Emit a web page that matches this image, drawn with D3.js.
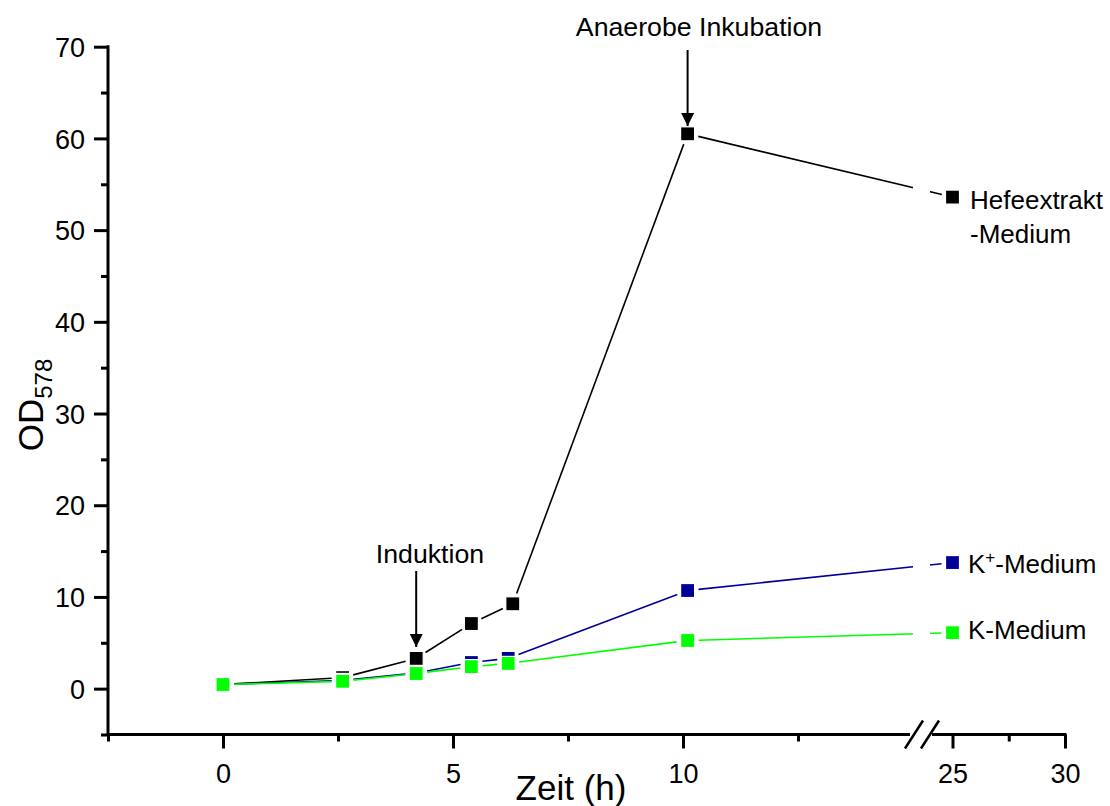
<!DOCTYPE html>
<html>
<head>
<meta charset="utf-8">
<script src="https://cdn.jsdelivr.net/npm/d3@7"></script>
<style>
  html, body { margin: 0; padding: 0; background: #fff; }
  svg { display: block; font-family: "Liberation Sans", Arial, sans-serif; }
</style>
</head>
<body>
<svg id="chart" width="1110" height="806"></svg>
<script>
// Data
const timeHefe = [0, 2.6, 4.2, 5.4, 6.3, 10.1, 25];
const timeK = [0, 2.6, 4.2, 5.4, 6.2, 10.1, 25];
const hefeValues = [0.45, 1.2, 3.3, 7.1, 9.25, 60.5, 53.6];
const kPlusValues = [0.45, 0.9, 1.7, 2.85, 3.3, 10.7, 13.75];
const kValues = [0.45, 0.8, 1.65, 2.4, 2.75, 5.25, 6.1];

const xMajorLeft = [0, 5, 10];
const xMinorLeft = [-2.5, 2.5, 7.5, 12.5];
const xMajorRight = [25, 30];
const xMinorRight = [27.5];
const yMajor = [0, 10, 20, 30, 40, 50, 60, 70];
const yMinor = [-5, 5, 15, 25, 35, 45, 55, 65];

const series = [
  { name: 'hefe', times: timeHefe, values: hefeValues, color: '#000000' },
  { name: 'kplus', times: timeK, values: kPlusValues, color: '#000099' },
  { name: 'k', times: timeK, values: kValues, color: '#00ff00' }
];

const svg = d3.select('#chart');

// Broken x axis: two linear segments
const breakLeft = 913, breakRight = 930;
const xLeft = d3.scaleLinear().domain([-2.5, 15]).range([108, breakLeft]);
const xRight = d3.scaleLinear().domain([24, 30]).range([breakRight, 1065]);
const x = v => (v <= 15 ? xLeft(v) : xRight(v));
const y = d3.scaleLinear().domain([-5, 70]).range([734.5, 46.7]);

const axisY0 = y(-5);

// Clip to hide data lines inside the axis break
const defs = svg.append('defs');
const clip = defs.append('clipPath').attr('id', 'gapClip');
clip.append('rect').attr('x', 0).attr('y', 0).attr('width', breakLeft).attr('height', 806);
clip.append('rect').attr('x', breakRight).attr('y', 0).attr('width', 1110 - breakRight).attr('height', 806);

defs.append('marker')
  .attr('id', 'arrowHead')
  .attr('viewBox', '0 0 10 10')
  .attr('refX', 10).attr('refY', 5)
  .attr('markerWidth', 6.5).attr('markerHeight', 6.5)
  .attr('markerUnits', 'strokeWidth')
  .attr('orient', 'auto')
  .append('path')
  .attr('d', 'M0,0 L10,5 L0,10 Z')
  .attr('fill', '#000');

// Axes
function styleAxis(g) {
  g.select('.domain').remove();
  g.selectAll('.tick line').attr('stroke', '#000').attr('stroke-width', 3);
  g.selectAll('.tick text').attr('font-size', 27).attr('fill', '#000');
}

const axisG = svg.append('g').attr('class', 'axes');

// y axis
axisG.append('line')
  .attr('x1', 108).attr('x2', 108)
  .attr('y1', y(70) - 1.5).attr('y2', axisY0 + 1.5)
  .attr('stroke', '#000').attr('stroke-width', 3);

axisG.append('g')
  .attr('transform', 'translate(108,0)')
  .call(d3.axisLeft(y).tickValues(yMajor).tickSize(14).tickPadding(9).tickFormat(d3.format('d')))
  .call(styleAxis)
  .selectAll('.tick text').attr('dy', '0.36em');

axisG.append('g')
  .attr('transform', 'translate(108,0)')
  .call(d3.axisLeft(y).tickValues(yMinor).tickSize(7).tickFormat(''))
  .call(styleAxis);

// x axis segments
axisG.append('line')
  .attr('x1', 106.5).attr('x2', breakLeft - 3)
  .attr('y1', axisY0).attr('y2', axisY0)
  .attr('stroke', '#000').attr('stroke-width', 3);
axisG.append('line')
  .attr('x1', breakRight + 2).attr('x2', 1066.5)
  .attr('y1', axisY0).attr('y2', axisY0)
  .attr('stroke', '#000').attr('stroke-width', 3);

[[xLeft, xMajorLeft, xMinorLeft], [xRight, xMajorRight, xMinorRight]].forEach(([sc, major, minor]) => {
  axisG.append('g')
    .attr('transform', `translate(0,${axisY0})`)
    .call(d3.axisBottom(sc).tickValues(major).tickSize(14).tickPadding(15).tickFormat(d3.format('d')))
    .call(styleAxis);
  axisG.append('g')
    .attr('transform', `translate(0,${axisY0})`)
    .call(d3.axisBottom(sc).tickValues(minor).tickSize(7).tickFormat(''))
    .call(styleAxis);
});

// break marks
[breakLeft + 1, breakRight].forEach(cx => {
  axisG.append('line')
    .attr('x1', cx - 9).attr('y1', axisY0 + 14)
    .attr('x2', cx + 9).attr('y2', axisY0 - 14)
    .attr('stroke', '#000').attr('stroke-width', 2.5);
});

// Axis titles
svg.append('text')
  .attr('x', 571).attr('y', 800)
  .attr('text-anchor', 'middle')
  .attr('font-size', 35)
  .text('Zeit (h)');

const yTitle = svg.append('text')
  .attr('transform', 'translate(43,405) rotate(-90)')
  .attr('text-anchor', 'middle')
  .attr('font-size', 35);
yTitle.append('tspan').text('OD');
yTitle.append('tspan').attr('font-size', 24).attr('dy', 9).text('578');

// Data lines and markers
const markerSize = 14;
const gapPad = markerSize / 2 + 4;

series.forEach(s => {
  const pts = s.times.map((t, i) => [x(t), y(s.values[i])]);
  const segs = [];
  for (let i = 0; i < pts.length - 1; i++) {
    const [x1, y1] = pts[i], [x2, y2] = pts[i + 1];
    const len = Math.hypot(x2 - x1, y2 - y1);
    if (len <= 2 * gapPad) continue;
    const ux = (x2 - x1) / len, uy = (y2 - y1) / len;
    segs.push([x1 + ux * gapPad, y1 + uy * gapPad, x2 - ux * gapPad, y2 - uy * gapPad]);
  }

  const g = svg.append('g').attr('class', 'series-' + s.name);

  g.append('g')
    .attr('clip-path', 'url(#gapClip)')
    .selectAll('line')
    .data(segs)
    .enter()
    .append('line')
    .attr('x1', d => d[0]).attr('y1', d => d[1])
    .attr('x2', d => d[2]).attr('y2', d => d[3])
    .attr('stroke', s.color)
    .attr('stroke-width', 1.6);

  g.selectAll('rect')
    .data(pts)
    .enter()
    .append('rect')
    .attr('x', d => d[0] - markerSize / 2)
    .attr('y', d => d[1] - markerSize / 2)
    .attr('width', markerSize)
    .attr('height', markerSize)
    .attr('fill', s.color)
    .attr('stroke', '#fff')
    .attr('stroke-width', 1.2);
});

// Series labels
const labelG = svg.append('g').attr('font-size', 26).attr('fill', '#000');
labelG.append('text').attr('x', 970).attr('y', 209).text('Hefeextrakt');
labelG.append('text').attr('x', 970).attr('y', 243).text('-Medium');
const kPlusLabel = labelG.append('text').attr('x', 968).attr('y', 573);
kPlusLabel.append('tspan').text('K');
kPlusLabel.append('tspan').attr('font-size', 17).attr('dy', -10).text('+');
kPlusLabel.append('tspan').attr('dy', 10).text('-Medium');
labelG.append('text').attr('x', 968).attr('y', 639).text('K-Medium');

// Annotations with arrows
const annotations = [
  { text: 'Induktion', tx: 430, ty: 563, ax: x(4.2), y1: 571, y2: 647 },
  { text: 'Anaerobe Inkubation', tx: 699, ty: 36, ax: x(10.1), y1: 50, y2: 126 }
];

annotations.forEach(a => {
  svg.append('text')
    .attr('x', a.tx).attr('y', a.ty)
    .attr('text-anchor', 'middle')
    .attr('font-size', 26.7)
    .text(a.text);
  svg.append('line')
    .attr('x1', a.ax).attr('x2', a.ax)
    .attr('y1', a.y1).attr('y2', a.y2)
    .attr('stroke', '#000')
    .attr('stroke-width', 2)
    .attr('marker-end', 'url(#arrowHead)');
});
</script>
</body>
</html>
